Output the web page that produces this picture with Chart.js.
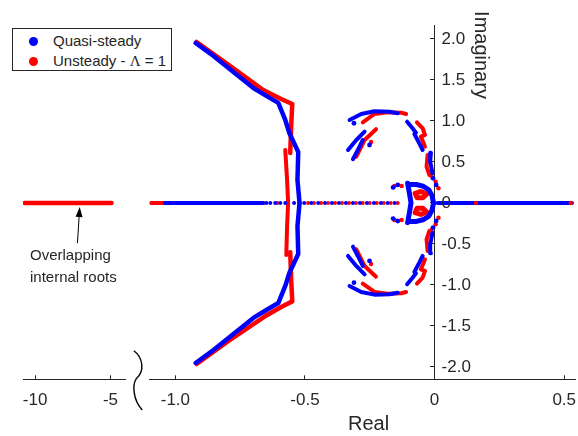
<!DOCTYPE html>
<html>
<head>
<meta charset="utf-8">
<title>Root locus</title>
<script src="https://cdn.jsdelivr.net/npm/chart.js@4.4.1/dist/chart.umd.min.js"></script>
<style>
  html, body { margin: 0; padding: 0; background: #ffffff; }
  #plot { position: relative; width: 578px; height: 436px; overflow: hidden;
          font-family: "Liberation Sans", Arial, sans-serif; color: #262626; }
  #plot canvas { position: absolute; left: 0; top: 0; }
  .legend { position: absolute; left: 12px; top: 28px; width: 158px; height: 41px;
            border: 1px solid #262626; background: #fff; font-size: 15px; }
  .legend .row { position: absolute; left: 0; width: 100%; height: 20px; line-height: 20px; white-space: nowrap; }
  .legend .dot { position: absolute; left: 16px; top: 6px; width: 9px; height: 9px; border-radius: 50%; }
  .legend .label { position: absolute; left: 40px; top: 0; }
  .legend .greek { font-family: "Liberation Serif", "Times New Roman", serif; }
  .note { position: absolute; left: 30px; top: 244px; font-size: 15px; line-height: 21.7px; }
</style>
</head>
<body>
<div id="plot">
  <canvas id="locus" width="578" height="436"></canvas>
  <div class="legend">
    <div class="row" style="top:2px"><span class="dot" style="background:#0000ff"></span><span class="label">Quasi-steady</span></div>
    <div class="row" style="top:22px"><span class="dot" style="background:#ff0000"></span><span class="label">Unsteady - <span class="greek">&Lambda;</span> = 1</span></div>
  </div>
  <div class="note">Overlapping<br>internal roots</div>
</div>
<script>
const FONT = '"Liberation Sans", Arial, sans-serif';
const INK = '#262626';
const BLUE = '#0000ff';
const RED = '#ff0000';

// Axis ranges: the real axis is broken into a far-left piece and the main piece
const realLeftRange = [-10.8, -4.0];
const realMainRange = [-1.1, 0.544];
const imagRange = [-2.15, 2.17];

// ---- Quasi-steady roots (blue), [real, imaginary] ----
const qsOuterUpper = [[-0.922, 1.951], [-0.853, 1.793], [-0.776, 1.598], [-0.699, 1.402], [-0.649, 1.305],
  [-0.603, 1.220], [-0.576, 1.012], [-0.560, 0.850], [-0.526, 0.622], [-0.529, 0.280], [-0.521, 0]];
const qsOuterLower = [[-0.922, -1.951], [-0.853, -1.793], [-0.776, -1.598], [-0.699, -1.402], [-0.649, -1.305],
  [-0.603, -1.220], [-0.576, -1.012], [-0.560, -0.850], [-0.526, -0.622], [-0.529, -0.280], [-0.521, 0]];
const qsRealLine = [[-1.04, 0], [-0.662, 0]];
const qsRealRight = [[0.012, 0], [0.530, 0]];
const qsRealDots = [-0.649, -0.634, -0.615, -0.595, -0.576, -0.542, -0.503, -0.476, -0.449, -0.423,
  -0.396, -0.369, -0.342, -0.315, -0.288, -0.261, -0.234, -0.207, -0.181, -0.154];
const qsArcUpper = [[-0.328, 1.012], [-0.283, 1.085], [-0.232, 1.118], [-0.174, 1.113], [-0.142, 1.094]];
const qsArcLower = [[-0.328, -1.012], [-0.283, -1.085], [-0.232, -1.118], [-0.174, -1.113], [-0.142, -1.094]];
const qsZigUpper = [[-0.106, 0.991], [-0.085, 0.911], [-0.072, 0.857], [-0.078, 0.841], [-0.059, 0.728], [-0.046, 0.646]];
const qsZigLower = [[-0.106, -0.991], [-0.085, -0.911], [-0.072, -0.857], [-0.078, -0.841], [-0.059, -0.728], [-0.046, -0.646]];
const qsNearUpper = [[-0.014, 0.613], [-0.017, 0.504], [-0.008, 0.362]];
const qsNearLower = [[-0.014, -0.613], [-0.017, -0.504], [-0.008, -0.362]];
const qsDiagUpperA = [[-0.334, 0.646], [-0.302, 0.768], [-0.270, 0.870]];
const qsDiagUpperB = [[-0.315, 0.533], [-0.296, 0.646], [-0.277, 0.768]];
const qsDiagLowerA = [[-0.334, -0.646], [-0.302, -0.768], [-0.270, -0.870]];
const qsDiagLowerB = [[-0.315, -0.533], [-0.296, -0.646], [-0.277, -0.768]];
const qsLobe = [[-0.104, 0.240], [-0.097, 0.118], [-0.091, 0], [-0.097, -0.118], [-0.104, -0.240]];
const qsWingUpper = [[-0.097, 0.225], [-0.070, 0.225], [-0.045, 0.205], [-0.022, 0.160], [-0.010, 0.090], [-0.004, 0]];
const qsWingLower = [[-0.097, -0.225], [-0.070, -0.225], [-0.045, -0.205], [-0.022, -0.160], [-0.010, -0.090], [-0.004, 0]];
const qsSpots = [[-0.311, 0.972], [-0.311, -0.972], [-0.251, 0.707], [-0.251, -0.707], [-0.142, 0.220], [-0.142, -0.220],
  [-0.160, 0.190], [-0.160, -0.190], [-0.006, 0.300], [-0.006, -0.300], [0.006, 0.220], [0.006, -0.220]];

// ---- Unsteady roots, Lambda = 1 (red) ----
const usInternalLine = [[-10.7, 0], [-4.93, 0]];
const usOuterUpper = [[-0.918, 1.963], [-0.795, 1.683], [-0.661, 1.378], [-0.592, 1.268], [-0.549, 1.207],
  [-0.553, 0.951], [-0.557, 0.610]];
const usOuterLower = [[-0.918, -1.963], [-0.795, -1.683], [-0.656, -1.385], [-0.592, -1.268], [-0.549, -1.200],
  [-0.553, -0.951], [-0.557, -0.600]];
const usInnerArc = [[-0.576, 0.646], [-0.569, 0.280], [-0.565, 0], [-0.569, -0.280], [-0.572, -0.634]];
const usRealLine = [[-1.094, 0], [-0.66, 0]];
const usRealDots = [-0.607, -0.488, -0.465, -0.438, -0.411, -0.384, -0.357, -0.330, -0.303, -0.277,
  -0.250, -0.223, -0.196, -0.169, -0.142];
const usRealRightDots = [0.160, 0.525];
const usArcUpper = [[-0.277, 0.984], [-0.232, 1.085], [-0.181, 1.106], [-0.129, 1.101], [-0.110, 1.085]];
const usArcLower = [[-0.277, -0.984], [-0.232, -1.085], [-0.181, -1.106], [-0.129, -1.101], [-0.110, -1.085]];
const usZigUpper = [[-0.068, 0.984], [-0.046, 0.911], [-0.037, 0.829], [-0.053, 0.809], [-0.042, 0.728], [-0.037, 0.687]];
const usZigLower = [[-0.068, -0.984], [-0.046, -0.911], [-0.037, -0.829], [-0.053, -0.809], [-0.042, -0.728], [-0.037, -0.687]];
const usNearUpper = [[-0.027, 0.585], [-0.031, 0.443], [-0.020, 0.341]];
const usNearLower = [[-0.027, -0.585], [-0.031, -0.443], [-0.020, -0.341]];
const usDiagUpper = [[-0.302, 0.565], [-0.270, 0.768], [-0.226, 0.899]];
const usDiagLower = [[-0.302, -0.565], [-0.270, -0.768], [-0.226, -0.899]];
const usEarUpper = [[-0.075, 0.118], [-0.053, 0.140], [-0.030, 0.110], [-0.045, 0.065], [-0.068, 0.065], [-0.075, 0.118]];
const usEarLower = [[-0.075, -0.118], [-0.053, -0.140], [-0.030, -0.110], [-0.045, -0.065], [-0.068, -0.065], [-0.075, -0.118]];
const usSpots = [[-0.245, 0.744], [-0.245, -0.744], [-0.155, 0.207], [-0.155, -0.207], [-0.127, 0.207], [-0.127, -0.207],
  [-0.012, 0.330], [-0.012, -0.330], [0.004, 0.260], [0.004, -0.260], [0.015, 0.180], [0.015, -0.180]];

// Annotation arrow (left axis piece): tail -> tip
const arrowTail = [-7.19, -0.49];
const arrowTip = [-7.04, -0.05];

// thick polyline built from densely packed roots
function path(points, color, width, order, axis) {
  return {
    data: points, showLine: true, borderColor: color, borderWidth: width,
    borderCapStyle: 'round', borderJoinStyle: 'round', pointRadius: 0, fill: false,
    xAxisID: axis || 'xR', yAxisID: 'y', order: order
  };
}

// isolated roots
function spots(points, color, radius, order) {
  return {
    data: points, showLine: false, pointRadius: radius, pointHoverRadius: radius,
    pointBackgroundColor: color, pointBorderWidth: 0, xAxisID: 'xR', yAxisID: 'y', order: order
  };
}

const onAxis = vals => vals.map(v => [v, 0]);

const datasets = [
  // blue on top of red
  path(qsOuterUpper, BLUE, 4.5, 1), path(qsOuterLower, BLUE, 4.5, 1),
  path(qsRealLine, BLUE, 4, 1), path(qsRealRight, BLUE, 4, 1),
  path(qsArcUpper, BLUE, 4, 1), path(qsArcLower, BLUE, 4, 1),
  path(qsZigUpper, BLUE, 4, 1), path(qsZigLower, BLUE, 4, 1),
  path(qsNearUpper, BLUE, 4, 1), path(qsNearLower, BLUE, 4, 1),
  path(qsDiagUpperA, BLUE, 4, 1), path(qsDiagUpperB, BLUE, 4, 1),
  path(qsDiagLowerA, BLUE, 4, 1), path(qsDiagLowerB, BLUE, 4, 1),
  path(qsLobe, BLUE, 5, 1), path(qsWingUpper, BLUE, 5, 1), path(qsWingLower, BLUE, 5, 1),
  spots(onAxis(qsRealDots), BLUE, 2, 1), spots(qsSpots, BLUE, 2.4, 1),

  path(usInternalLine, RED, 4.5, 2, 'xL'),
  path(usOuterUpper, RED, 4.5, 2), path(usOuterLower, RED, 4.5, 2),
  path(usInnerArc, RED, 4, 2), path(usRealLine, RED, 4, 2),
  path(usArcUpper, RED, 4, 2), path(usArcLower, RED, 4, 2),
  path(usZigUpper, RED, 4, 2), path(usZigLower, RED, 4, 2),
  path(usNearUpper, RED, 4, 2), path(usNearLower, RED, 4, 2),
  path(usDiagUpper, RED, 4, 2), path(usDiagLower, RED, 4, 2),
  path(usEarUpper, RED, 5, 2), path(usEarLower, RED, 5, 2),
  spots(onAxis(usRealDots), RED, 2, 2), spots(usSpots, RED, 2.2, 2),
  spots(onAxis(usRealRightDots), RED, 2.2, 0)
];

const AXIS_BAND = 56.7;  // height of the real-axis strip under the plot
const TICK_SIZE = 17;
const TITLE_SIZE = 20;

function pinStrip(scale) {
  scale.height = AXIS_BAND;
  scale.paddingLeft = 0;
  scale.paddingRight = 0;
  scale.paddingTop = 0;
  scale.paddingBottom = 0;
}

function realAxis(range, weight, step) {
  return {
    type: 'linear', axis: 'x', position: 'bottom', stack: 'real', stackWeight: weight,
    min: range[0], max: range[1],
    grid: { drawOnChartArea: false, tickLength: -4, color: INK },
    border: { color: INK },
    ticks: { stepSize: step, includeBounds: false, autoSkip: false, maxRotation: 0,
             padding: 14.5, color: INK, font: { family: FONT, size: TICK_SIZE } },
    afterFit: pinStrip
  };
}

const scaleL = realAxis(realLeftRange, 103, 5);
const scaleR = realAxis(realMainRange, 428, 0.5);

// brace, axis titles, imaginary labels and the annotation arrow
const decorations = {
  id: 'decorations',
  afterDraw(chart) {
    const { ctx, scales } = chart;
    const { xL, xGap, xR, y } = scales;
    const x0 = xR.getPixelForValue(0);
    ctx.save();

    // imaginary tick labels sit to the right of the axis
    ctx.fillStyle = INK;
    ctx.font = TICK_SIZE + 'px ' + FONT;
    ctx.textAlign = 'left';
    ctx.textBaseline = 'middle';
    y.ticks.forEach(t => ctx.fillText(t.label, x0 + 7, y.getPixelForValue(t.value)));

    // axis titles
    ctx.font = TITLE_SIZE + 'px ' + FONT;
    ctx.textAlign = 'center';
    ctx.fillText('Real', (xR.left + xR.right) / 2 + 6, xR.bottom - 12);
    ctx.save();
    ctx.translate(x0 + 46, y.top + 30);
    ctx.rotate(Math.PI / 2);
    ctx.fillText('Imaginary', 0, 0);
    ctx.restore();

    // axis break mark
    const cx = (xGap.left + xGap.right) / 2;
    const cy = xR.top;
    ctx.strokeStyle = '#000';
    ctx.lineWidth = 1.4;
    ctx.beginPath();
    ctx.moveTo(cx - 3.7, cy - 28.6);
    ctx.bezierCurveTo(cx + 5.5, cy - 22, cx + 7.5, cy - 8, cx - 1.3, cy - 0.5);
    ctx.bezierCurveTo(cx - 5, cy + 5, cx - 5, cy + 20, cx + 4.7, cy + 30.7);
    ctx.stroke();

    // arrow to the overlapping internal roots
    const tx = xL.getPixelForValue(arrowTip[0]), ty = y.getPixelForValue(arrowTip[1]);
    const sx = xL.getPixelForValue(arrowTail[0]), sy = y.getPixelForValue(arrowTail[1]);
    const ang = Math.atan2(ty - sy, tx - sx);
    const head = 10, half = 3.5;
    const bx = tx - head * Math.cos(ang), by = ty - head * Math.sin(ang);
    ctx.strokeStyle = '#000';
    ctx.lineWidth = 1;
    ctx.beginPath();
    ctx.moveTo(sx, sy);
    ctx.lineTo(bx, by);
    ctx.stroke();
    ctx.fillStyle = '#000';
    ctx.beginPath();
    ctx.moveTo(tx, ty);
    ctx.lineTo(bx + half * Math.sin(ang), by - half * Math.cos(ang));
    ctx.lineTo(bx - half * Math.sin(ang), by + half * Math.cos(ang));
    ctx.closePath();
    ctx.fill();

    ctx.restore();
  }
};

new Chart(document.getElementById('locus'), {
  type: 'scatter',
  data: { datasets: datasets },
  options: {
    responsive: false,
    animation: false,
    events: [],
    layout: { padding: { left: 23, right: 0, top: 25, bottom: 0 } },
    plugins: { legend: { display: false }, tooltip: { enabled: false } },
    scales: {
      xL: scaleL,
      xGap: {
        type: 'linear', axis: 'x', position: 'bottom', stack: 'real', stackWeight: 24,
        min: 0, max: 1,
        ticks: { display: false }, grid: { display: false }, border: { display: false },
        afterFit: pinStrip
      },
      xR: scaleR,
      y: {
        type: 'linear', axis: 'y', position: { xR: 0 },
        min: imagRange[0], max: imagRange[1],
        ticks: { display: false, stepSize: 0.5, includeBounds: false },
        grid: { drawOnChartArea: false, tickLength: 4, color: INK },
        border: { color: INK },
        afterFit(scale) { scale.paddingTop = 0; scale.paddingBottom = 0; }
      }
    }
  },
  plugins: [decorations]
});
</script>
</body>
</html>
